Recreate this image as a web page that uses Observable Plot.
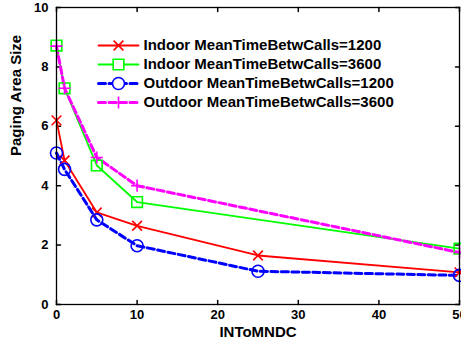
<!DOCTYPE html>
<html><head><meta charset="utf-8">
<script src="https://cdn.jsdelivr.net/npm/d3@7"></script>
<script src="https://cdn.jsdelivr.net/npm/@observablehq/plot@0.6"></script>
<style>
body{margin:0;background:#fff}
#wrap{position:relative;width:461px;height:345px;background:#fff}
#legend{position:absolute;left:90px;top:20px}
</style>
</head><body><div id="wrap"></div>
<script>
// ---- data ----
const seriesNames = [
  "Indoor MeanTimeBetwCalls=1200",
  "Indoor MeanTimeBetwCalls=3600",
  "Outdoor MeanTimeBetwCalls=1200",
  "Outdoor MeanTimeBetwCalls=3600"
];
const xIndoor1200 = [0, 1, 5, 10, 25, 50];
const yIndoor1200 = [6.2, 4.85, 3.1, 2.65, 1.65, 1.08];
const xIndoor3600 = [0, 1, 5, 10, 50];
const yIndoor3600 = [8.72, 7.28, 4.68, 3.45, 1.88];
const xOutdoor1200 = [0, 1, 5, 10, 25, 50];
const yOutdoor1200 = [5.1, 4.55, 2.85, 1.98, 1.12, 0.98];
const xOutdoor3600 = [0, 1, 5, 10, 50];
const yOutdoor3600 = [8.7, 7.28, 4.95, 4.0, 1.75];
const xTicks = [0, 10, 20, 30, 40, 50];
const yTicks = [0, 2, 4, 6, 8, 10];
const xLabel = "INToMNDC";
const yLabel = "Paging Area Size";

// ---- styles ----
const styles = [
  {color: "#ff0000", width: 1.8, dash: null, symbol: "times", r: 4.5},
  {color: "#00ff00", width: 1.8, dash: null, symbol: "square", r: 6},
  {color: "#0000ff", width: 3, dash: "7,3.5", symbol: "circle", r: 6},
  {color: "#ff00ff", width: 3, dash: "7,3.5", symbol: "plus", r: 4}
];
const xsAll = [xIndoor1200, xIndoor3600, xOutdoor1200, xOutdoor3600];
const ysAll = [yIndoor1200, yIndoor3600, yOutdoor1200, yOutdoor3600];
const tables = xsAll.map((xs, i) => xs.map((x, j) => ({x, y: ysAll[i][j], name: seriesNames[i]})));

const font = '"Liberation Sans", Arial, Helvetica, sans-serif';
const tickShape = {draw(ctx, l) { ctx.moveTo(0, 0); ctx.lineTo(0, -l); }};

const seriesMarks = [];
tables.forEach((t, i) => {
  const s = styles[i];
  seriesMarks.push(Plot.line(t, {x: "x", y: "y", stroke: s.color, strokeWidth: s.width, strokeDasharray: s.dash, strokeLinejoin: "round"}));
});
tables.forEach((t, i) => {
  const s = styles[i];
  seriesMarks.push(Plot.dot(t, {x: "x", y: "y", symbol: s.symbol, r: s.r, stroke: s.color, strokeWidth: 1.6, fill: "none"}));
});

const chart = Plot.plot({
  width: 461, height: 345,
  marginLeft: 56, marginRight: 2, marginTop: 7, marginBottom: 41,
  x: {domain: [0, 50]},
  y: {domain: [0, 10]},
  style: {fontFamily: font, fontWeight: "bold", color: "black", background: "white"},
  marks: [
    Plot.axisX(xTicks, {tickSize: 0, tickPadding: 5, fontSize: 13, label: null}),
    Plot.axisY(yTicks, {tickSize: 0, tickPadding: 8, fontSize: 13, label: null}),
    Plot.vector(xTicks, {x: d => d, frameAnchor: "bottom", length: 4, rotate: 0, anchor: "start", shape: tickShape, stroke: "black"}),
    Plot.vector(xTicks, {x: d => d, frameAnchor: "top", length: 4, rotate: 180, anchor: "start", shape: tickShape, stroke: "black"}),
    Plot.vector(yTicks, {y: d => d, frameAnchor: "left", length: 4, rotate: 90, anchor: "start", shape: tickShape, stroke: "black"}),
    Plot.vector(yTicks, {y: d => d, frameAnchor: "right", length: 4, rotate: -90, anchor: "start", shape: tickShape, stroke: "black"}),
    ...seriesMarks,
    Plot.frame({stroke: "black", strokeWidth: 1.3}),
    Plot.text([xLabel], {text: d => d, frameAnchor: "bottom", dy: 32, fontSize: 15}),
    Plot.text([yLabel], {text: d => d, frameAnchor: "left", dx: -40, rotate: -90, fontSize: 15})
  ]
});

// ---- legend ----
const legendMarks = [];
seriesNames.forEach((name, i) => {
  const s = styles[i];
  legendMarks.push(Plot.line([{x: 0, name}, {x: 1, name}], {x: "x", y: "name", stroke: s.color, strokeWidth: s.width, strokeDasharray: s.dash}));
  legendMarks.push(Plot.dot([name], {x: 0.5, y: d => d, symbol: s.symbol, r: s.r, stroke: s.color, strokeWidth: 1.6, fill: "white"}));
  legendMarks.push(Plot.text([name], {x: 1, y: d => d, text: d => d, dx: 5, textAnchor: "start", fontSize: 15}));
});
const legend = Plot.plot({
  width: 330, height: 110, margin: 0,
  x: {domain: [0, 1], range: [8, 48], axis: null},
  y: {type: "point", domain: seriesNames, range: [15, 92], axis: null},
  style: {fontFamily: font, fontWeight: "bold", color: "black", background: "transparent"},
  marks: legendMarks
});
legend.id = "legend";

const wrap = document.getElementById("wrap");
wrap.appendChild(chart);
wrap.appendChild(legend);
</script></body></html>
